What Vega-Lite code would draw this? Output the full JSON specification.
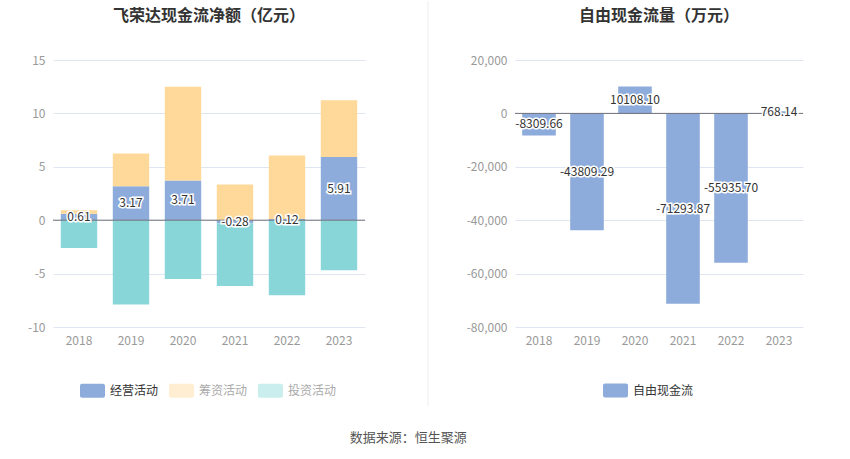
{
  "$schema": "https://vega.github.io/schema/vega-lite/v6.json",
  "background": "white",
  "padding": {"left": 13, "top": 0, "right": 0, "bottom": 0},
  "config": {
    "font": "Noto Sans CJK SC",
    "locale": {
      "number": {"decimal": ".", "thousands": ",", "grouping": [3], "currency": ["", ""], "minus": "-"}
    },
    "view": {"stroke": null},
    "concat": {"spacing": 0},
    "axis": {
      "labelColor": "#999999",
      "labelFontSize": 12,
      "labelFont": "Noto Sans CJK SC",
      "ticks": false,
      "domain": false,
      "gridColor": "#e0e6f1"
    },
    "legend": {"padding": 0}
  },
  "title": {
    "text": "数据来源：恒生聚源",
    "orient": "bottom",
    "anchor": "middle",
    "fontSize": 13,
    "fontWeight": "normal",
    "color": "#555555",
    "offset": 25
  },
  "resolve": {"scale": {"color": "independent"}, "legend": {"color": "independent"}},
  "hconcat": [
    {
      "width": 312,
      "height": 267,
      "title": {
        "text": "飞荣达现金流净额（亿元）",
        "fontSize": 16,
        "fontWeight": "bold",
        "color": "#333333",
        "anchor": "middle",
        "offset": 30
      },
      "data": {
        "values": [
          {"year": "2018", "type": "经营活动", "value": 0.61},
          {"year": "2018", "type": "筹资活动", "value": 0.33},
          {"year": "2018", "type": "投资活动", "value": -2.6},
          {"year": "2019", "type": "经营活动", "value": 3.17},
          {"year": "2019", "type": "筹资活动", "value": 3.08},
          {"year": "2019", "type": "投资活动", "value": -7.9},
          {"year": "2020", "type": "经营活动", "value": 3.71},
          {"year": "2020", "type": "筹资活动", "value": 8.79},
          {"year": "2020", "type": "投资活动", "value": -5.5},
          {"year": "2021", "type": "经营活动", "value": -0.28},
          {"year": "2021", "type": "筹资活动", "value": 3.34},
          {"year": "2021", "type": "投资活动", "value": -5.88},
          {"year": "2022", "type": "经营活动", "value": 0.12},
          {"year": "2022", "type": "筹资活动", "value": 5.94},
          {"year": "2022", "type": "投资活动", "value": -7.03},
          {"year": "2023", "type": "经营活动", "value": 5.91},
          {"year": "2023", "type": "筹资活动", "value": 5.31},
          {"year": "2023", "type": "投资活动", "value": -4.69}
        ]
      },
      "layer": [
        {
          "mark": {"type": "bar"},
          "encoding": {
            "x": {
              "field": "year",
              "type": "ordinal",
              "scale": {"paddingInner": 0.3, "paddingOuter": 0.15},
              "axis": {"title": null, "labelAngle": 0, "labelPadding": 8}
            },
            "y": {
              "field": "value",
              "type": "quantitative",
              "stack": "zero",
              "scale": {"domain": [-10, 15], "nice": false},
              "axis": {
                "title": null,
                "values": [-10, -5, 0, 5, 10, 15],
                "labelPadding": 8,
                "minExtent": 40,
                "maxExtent": 40
              }
            },
            "color": {
              "field": "type",
              "type": "nominal",
              "scale": {
                "domain": ["经营活动", "筹资活动", "投资活动"],
                "range": ["#8eacdb", "#ffd99a", "#89d6d9"]
              },
              "legend": {
                "orient": "none",
                "legendX": 27,
                "legendY": 318,
                "direction": "horizontal",
                "title": null,
                "symbolType": "M-0.84,-0.56H0.84A0.16,0.16 0 0 1 1,-0.4V0.4A0.16,0.16 0 0 1 0.84,0.56H-0.84A0.16,0.16 0 0 1 -1,0.4V-0.4A0.16,0.16 0 0 1 -0.84,-0.56Z",
                "symbolSize": 625,
                "symbolStrokeWidth": 0,
                "labelFontSize": 12,
                "labelColor": "#333333",
                "labelOffset": 5,
                "columnPadding": 10,
                "encode": {
                  "symbols": {"update": {"fillOpacity": {"signal": "datum.value === '经营活动' ? 1 : 0.45"}}},
                  "labels": {"update": {"fill": {"signal": "datum.value === '经营活动' ? '#333333' : '#aaaaaa'"}}}
                }
              }
            },
            "order": {"field": "type", "sort": "descending"}
          }
        },
        {
          "data": {"values": [{"z": 0}]},
          "mark": {"type": "rule", "color": "#6e7079"},
          "encoding": {"y": {"field": "z", "type": "quantitative"}}
        },
        {
          "transform": [{"filter": "datum.type === '经营活动'"}],
          "mark": {"type": "text", "fill": "white", "stroke": "white", "strokeWidth": 3, "fontSize": 12},
          "encoding": {
            "x": {"field": "year", "type": "ordinal"},
            "y": {"field": "value", "type": "quantitative", "stack": "zero", "bandPosition": 0.5},
            "text": {"field": "value", "type": "quantitative", "format": ".2f"}
          }
        },
        {
          "transform": [{"filter": "datum.type === '经营活动'"}],
          "mark": {"type": "text", "fill": "#333333", "fontSize": 12},
          "encoding": {
            "x": {"field": "year", "type": "ordinal"},
            "y": {"field": "value", "type": "quantitative", "stack": "zero", "bandPosition": 0.5},
            "text": {"field": "value", "type": "quantitative", "format": ".2f"}
          }
        }
      ]
    },
    {
      "width": 89,
      "height": 346,
      "data": {"values": [{"x": 62, "y0": 0, "y1": 405}]},
      "mark": {"type": "rule", "color": "#eeeeee"},
      "encoding": {
        "x": {
          "field": "x",
          "type": "quantitative",
          "scale": {"domain": [0, 89], "nice": false, "zero": false},
          "axis": null
        },
        "y": {
          "field": "y0",
          "type": "quantitative",
          "scale": {"domain": [0, 346], "nice": false, "zero": false},
          "axis": null
        },
        "y2": {"field": "y1"}
      }
    },
    {
      "width": 288,
      "height": 267,
      "title": {
        "text": "自由现金流量（万元）",
        "fontSize": 16,
        "fontWeight": "bold",
        "color": "#333333",
        "anchor": "middle",
        "offset": 30
      },
      "data": {
        "values": [
          {"year": "2018", "type": "自由现金流", "value": -8309.66},
          {"year": "2019", "type": "自由现金流", "value": -43809.29},
          {"year": "2020", "type": "自由现金流", "value": 10108.10},
          {"year": "2021", "type": "自由现金流", "value": -71293.87},
          {"year": "2022", "type": "自由现金流", "value": -55935.70},
          {"year": "2023", "type": "自由现金流", "value": 768.14}
        ]
      },
      "layer": [
        {
          "mark": {"type": "bar"},
          "encoding": {
            "x": {
              "field": "year",
              "type": "ordinal",
              "scale": {"paddingInner": 0.3, "paddingOuter": 0.15},
              "axis": {"title": null, "labelAngle": 0, "labelPadding": 8}
            },
            "y": {
              "field": "value",
              "type": "quantitative",
              "stack": "zero",
              "scale": {"domain": [-80000, 20000], "nice": false},
              "axis": {
                "title": null,
                "values": [-80000, -60000, -40000, -20000, 0, 20000],
                "format": ",d",
                "labelPadding": 8,
                "minExtent": 60,
                "maxExtent": 60
              }
            },
            "color": {
              "field": "type",
              "type": "nominal",
              "scale": {"domain": ["自由现金流"], "range": ["#8eacdb"]},
              "legend": {
                "orient": "none",
                "legendX": 88,
                "legendY": 318,
                "direction": "horizontal",
                "title": null,
                "symbolType": "M-0.84,-0.56H0.84A0.16,0.16 0 0 1 1,-0.4V0.4A0.16,0.16 0 0 1 0.84,0.56H-0.84A0.16,0.16 0 0 1 -1,0.4V-0.4A0.16,0.16 0 0 1 -0.84,-0.56Z",
                "symbolSize": 625,
                "symbolStrokeWidth": 0,
                "labelFontSize": 12,
                "labelColor": "#333333",
                "labelOffset": 5
              }
            }
          }
        },
        {
          "data": {"values": [{"z": 0}]},
          "mark": {"type": "rule", "color": "#6e7079"},
          "encoding": {"y": {"field": "z", "type": "quantitative"}}
        },
        {
          "mark": {"type": "text", "fill": "white", "stroke": "white", "strokeWidth": 3, "fontSize": 12},
          "encoding": {
            "x": {"field": "year", "type": "ordinal"},
            "y": {"field": "value", "type": "quantitative", "stack": "zero", "bandPosition": 0.5},
            "text": {"field": "value", "type": "quantitative", "format": ".2f"}
          }
        },
        {
          "mark": {"type": "text", "fill": "#333333", "fontSize": 12},
          "encoding": {
            "x": {"field": "year", "type": "ordinal"},
            "y": {"field": "value", "type": "quantitative", "stack": "zero", "bandPosition": 0.5},
            "text": {"field": "value", "type": "quantitative", "format": ".2f"}
          }
        }
      ]
    }
  ]
}
